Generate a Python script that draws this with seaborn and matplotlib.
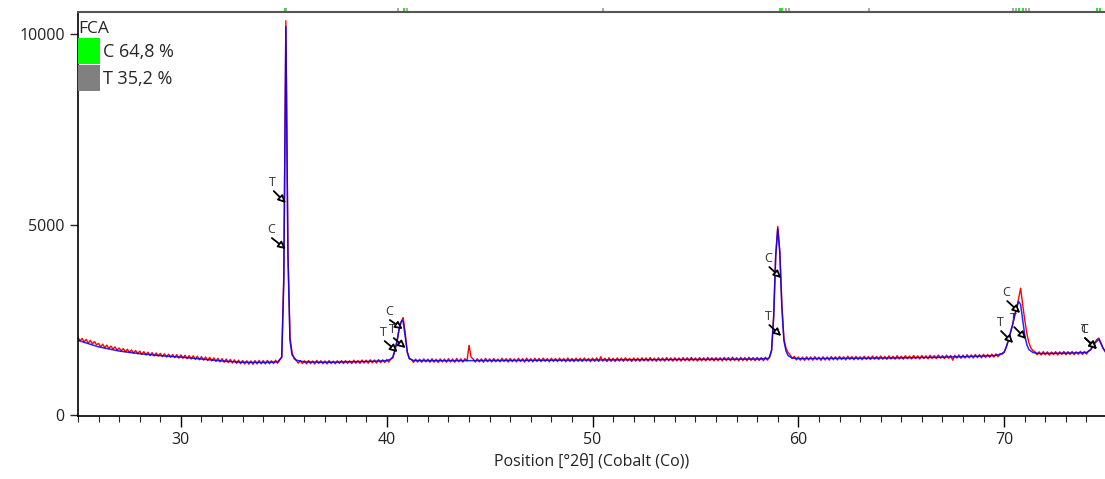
import numpy as np
import matplotlib
matplotlib.use("Agg")
import matplotlib.pyplot as plt
from matplotlib.patches import Patch
from matplotlib.ticker import MultipleLocator
import seaborn as sns

# ---------------- data ----------------
# observed pattern (red), sampled every 0.1 deg from 25.0
red_start = 25.0
red_step = 0.1
red_y = [
    2040, 1950, 2010, 1920, 1985, 1890, 1960, 1870, 1930, 1845,  # 25
    1880, 1790, 1860, 1770, 1835, 1745, 1810, 1730, 1790, 1700,  # 26
    1760, 1680, 1745, 1660, 1725, 1640, 1710, 1625, 1695, 1610,  # 27
    1680, 1590, 1665, 1575, 1650, 1560, 1640, 1550, 1630, 1545,  # 28
    1620, 1530, 1610, 1520, 1600, 1515, 1590, 1505, 1585, 1495,  # 29
    1580, 1490, 1570, 1480, 1560, 1470, 1555, 1460, 1545, 1450,  # 30
    1535, 1440, 1525, 1430, 1515, 1420, 1500, 1405, 1490, 1395,  # 31
    1480, 1385, 1470, 1375, 1460, 1365, 1450, 1355, 1440, 1345,  # 32
    1430, 1340, 1425, 1335, 1420, 1330, 1430, 1340, 1435, 1345,  # 33
    1430, 1340, 1435, 1345, 1425, 1350, 1440, 1360, 1440, 1520,  # 34
    3700, 10350, 4300, 2050, 1640, 1480, 1440, 1360, 1430, 1350,  # 35
    1425, 1345, 1430, 1350, 1420, 1340, 1435, 1355, 1425, 1345,  # 36
    1420, 1340, 1430, 1350, 1415, 1345, 1425, 1355, 1430, 1350,  # 37
    1430, 1355, 1425, 1350, 1440, 1360, 1430, 1355, 1445, 1365,  # 38
    1440, 1360, 1450, 1370, 1445, 1365, 1455, 1375, 1450, 1380,  # 39
    1460, 1390, 1470, 1500, 1700, 1920, 2250, 2450, 2560, 2150,  # 40
    1650, 1480, 1460, 1380, 1470, 1390, 1465, 1385, 1475, 1395,  # 41
    1470, 1385, 1480, 1390, 1465, 1380, 1475, 1395, 1470, 1385,  # 42
    1480, 1395, 1470, 1385, 1485, 1400, 1475, 1390, 1480, 1420,  # 43
    1830, 1520, 1470, 1390, 1480, 1395, 1475, 1385, 1490, 1400,  # 44
    1475, 1390, 1485, 1400, 1470, 1395, 1490, 1405, 1480, 1390,  # 45
    1485, 1400, 1475, 1395, 1490, 1405, 1480, 1390, 1495, 1400,  # 46
    1480, 1395, 1490, 1405, 1485, 1400, 1495, 1410, 1480, 1395,  # 47
    1490, 1405, 1485, 1400, 1495, 1410, 1485, 1395, 1500, 1405,  # 48
    1485, 1400, 1495, 1410, 1490, 1405, 1500, 1415, 1485, 1400,  # 49
    1495, 1410, 1500, 1405, 1530, 1415, 1495, 1400, 1505, 1410,  # 50
    1490, 1405, 1500, 1415, 1495, 1410, 1505, 1420, 1490, 1405,  # 51
    1500, 1415, 1495, 1410, 1505, 1420, 1500, 1415, 1510, 1420,  # 52
    1495, 1410, 1505, 1420, 1500, 1415, 1510, 1425, 1500, 1415,  # 53
    1505, 1420, 1500, 1415, 1510, 1425, 1505, 1420, 1515, 1425,  # 54
    1500, 1415, 1510, 1425, 1505, 1420, 1515, 1430, 1505, 1420,  # 55
    1510, 1425, 1505, 1420, 1515, 1430, 1510, 1425, 1520, 1430,  # 56
    1505, 1420, 1515, 1430, 1510, 1425, 1520, 1435, 1510, 1425,  # 57
    1515, 1430, 1510, 1425, 1520, 1440, 1530, 1700, 2600, 4200,  # 58
    4950, 4300, 2900, 2000, 1760, 1640, 1580, 1480, 1540, 1445,  # 59
    1525, 1440, 1520, 1435, 1530, 1445, 1525, 1440, 1535, 1450,  # 60
    1520, 1435, 1530, 1445, 1525, 1440, 1535, 1450, 1530, 1445,  # 61
    1540, 1455, 1530, 1445, 1545, 1460, 1535, 1450, 1540, 1455,  # 62
    1530, 1450, 1545, 1460, 1535, 1455, 1550, 1465, 1540, 1455,  # 63
    1550, 1465, 1540, 1460, 1555, 1470, 1545, 1465, 1560, 1470,  # 64
    1545, 1465, 1560, 1475, 1550, 1470, 1565, 1480, 1555, 1470,  # 65
    1565, 1480, 1555, 1475, 1570, 1485, 1560, 1480, 1575, 1490,  # 66
    1560, 1480, 1575, 1490, 1565, 1440, 1570, 1495, 1580, 1490,  # 67
    1575, 1495, 1585, 1500, 1580, 1495, 1590, 1505, 1585, 1500,  # 68
    1595, 1510, 1590, 1515, 1600, 1520, 1605, 1530, 1610, 1600,  # 69
    1650, 1780, 1950, 2150, 2350, 2600, 2800, 3050, 3330, 2900,  # 70
    2500, 2150, 1900, 1760, 1690, 1660, 1580, 1660, 1575, 1665,  # 71
    1580, 1660, 1570, 1655, 1585, 1665, 1575, 1660, 1590, 1670,  # 72
    1580, 1665, 1590, 1670, 1585, 1660, 1595, 1675, 1590, 1670,  # 73
    1600, 1680, 1720, 1800, 1900, 1980, 2020, 1900, 1760, 1660,  # 74
]
red_x = np.round(red_start + red_step * np.arange(len(red_y)), 2)

# calculated profile (blue)
blue_x = [25.0, 26.0, 27.0, 28.0, 29.0, 30.0, 31.0, 32.0, 33.0, 34.0, 34.7, 34.9,
          35.0, 35.1, 35.2, 35.3, 35.4, 35.6, 36.0, 37.0, 38.0, 39.0, 40.0, 40.2,
          40.3, 40.4, 40.5, 40.6, 40.7, 40.75, 40.8, 40.9, 41.0, 41.1, 41.3, 42.0,
          45.0, 50.0, 55.0, 58.0, 58.5, 58.6, 58.7, 58.8, 58.9, 59.0, 59.1, 59.2,
          59.3, 59.4, 59.5, 59.7, 60.0, 65.0, 68.0, 69.5, 69.8, 70.0, 70.1, 70.2,
          70.3, 70.4, 70.5, 70.6, 70.7, 70.8, 70.9, 71.0, 71.1, 71.2, 71.4, 71.7,
          73.0, 74.0, 74.2, 74.4, 74.6, 74.8, 74.9]
blue_y = [1960, 1790, 1680, 1610, 1560, 1520, 1470, 1420, 1385, 1380, 1395, 1520,
          3500, 10200, 4200, 1950, 1580, 1440, 1395, 1385, 1395, 1405, 1425, 1470,
          1530, 1720, 1950, 2250, 2440, 2480, 2450, 2050, 1650, 1480, 1430, 1425,
          1430, 1445, 1460, 1470, 1480, 1510, 1700, 2550, 4150, 4900, 4250, 2800,
          1950, 1680, 1560, 1500, 1480, 1500, 1530, 1560, 1590, 1650, 1780, 1950,
          2150, 2350, 2580, 2800, 2980, 2900, 2500, 2100, 1850, 1720, 1640, 1615,
          1625, 1640, 1710, 1880, 1990, 1760, 1690]

# reference pattern stick positions (top markers)
c_ref_pos = [35.05, 40.83, 59.13, 59.22, 70.73, 70.92, 74.51, 74.66]
t_ref_pos = [35.10, 40.53, 40.97, 50.49, 59.42, 59.56, 63.45, 70.44, 70.58, 71.07, 71.21]

# phase labels: (label, arrow tail x, tail y, arrow tip x, tip y)
peak_labels = [
    ("T", 34.51, 5880, 35.10, 5565),
    ("C", 34.42, 4646, 35.10, 4358),
    ("C", 40.15, 2494, 40.78, 2258),
    ("T", 39.90, 1943, 40.53, 1654),
    ("T", 40.34, 2021, 40.92, 1759),
    ("C", 58.59, 3885, 59.17, 3596),
    ("T", 58.59, 2363, 59.17, 2074),
    ("C", 70.15, 2993, 70.78, 2678),
    ("T", 69.85, 2205, 70.44, 1890),
    ("T", 70.49, 2310, 71.07, 1995),
    ("C", 73.93, 2021, 74.51, 1733),
    ("T", 73.93, 2021, 74.51, 1733),
]

phase_names = ["C 64,8 %", "T 35,2 %"]
phase_colors = ["#00ff00", "#808080"]
x_ticks = [30, 40, 50, 60, 70]
y_ticks = [0, 5000, 10000]

# ---------------- plot ----------------
sns.set_style("ticks")
plt.rcParams['font.family'] = ['Open Sans', 'DejaVu Sans']

fig = plt.figure(figsize=(11.05, 4.79), dpi=100)
ax = fig.add_axes([78 / 1105, 1 - 416 / 479, 1 - 78 / 1105, (416 - 12) / 479])

sns.lineplot(x=red_x, y=red_y, color="#ff0000", lw=1.0, ax=ax,
             estimator=None, sort=False)
sns.lineplot(x=blue_x, y=blue_y, color="#0000ff", lw=1.1, alpha=0.85, ax=ax,
             estimator=None, sort=False)

ax.set_xlim(25.0, 74.9)
ax.set_ylim(-25, 10580)
ax.set_xticks(x_ticks)
ax.xaxis.set_minor_locator(MultipleLocator(1))
ax.set_yticks(y_ticks)
ax.set_yticklabels([str(v) for v in y_ticks])
ax.tick_params(axis="x", which="major", length=8, width=1, direction="out",
               labelsize=11.5, colors="black", labelcolor="#222222")
ax.tick_params(axis="x", which="minor", length=4, width=0.8, direction="out")
ax.tick_params(axis="y", which="major", length=6, width=1, direction="out",
               labelsize=11.5, labelcolor="#222222")
ax.set_xlabel("Position [°2θ] (Cobalt (Co))", fontsize=11.5, color="#222222",
              labelpad=4)
ax.set_ylabel("")

for s in ["left", "bottom"]:
    ax.spines[s].set_color("black")
    ax.spines[s].set_linewidth(1.2)
ax.spines["top"].set_color("#555555")
ax.spines["top"].set_linewidth(1.5)
ax.spines["right"].set_visible(False)

# reference markers above top spine
trans = ax.get_xaxis_transform()
ax.vlines(t_ref_pos, 1.0, 1.011, transform=trans, colors="#aaaaaa", lw=1.5,
          clip_on=False)
ax.vlines(c_ref_pos, 1.0, 1.011, transform=trans, colors="#33dd33", lw=1.5,
          clip_on=False)

# phase labels with arrows
for lab, tx, ty, px, py in peak_labels:
    ax.annotate("", xy=(px, py), xytext=(tx, ty),
                arrowprops=dict(arrowstyle="-|>", fc="white", ec="black",
                                lw=1.3, mutation_scale=11, shrinkA=0, shrinkB=0))
    ax.annotate(lab, xy=(tx, ty), xytext=(-0.7, 6), textcoords="offset points",
                fontsize=9, color="#333333", ha="center", va="center")

# legend
handles = [Patch(facecolor=c, edgecolor="none") for c in phase_colors]
leg = ax.legend(handles, phase_names, title="FCA", loc="upper left",
                bbox_to_anchor=(-0.0085, 1.0), frameon=False, fontsize=13,
                title_fontsize=12.5, handlelength=1.22, handleheight=1.84,
                handletextpad=0.15, labelspacing=0.05, borderaxespad=0.0,
                borderpad=0.5, alignment="left")

fig.savefig("out.png", dpi=100)
